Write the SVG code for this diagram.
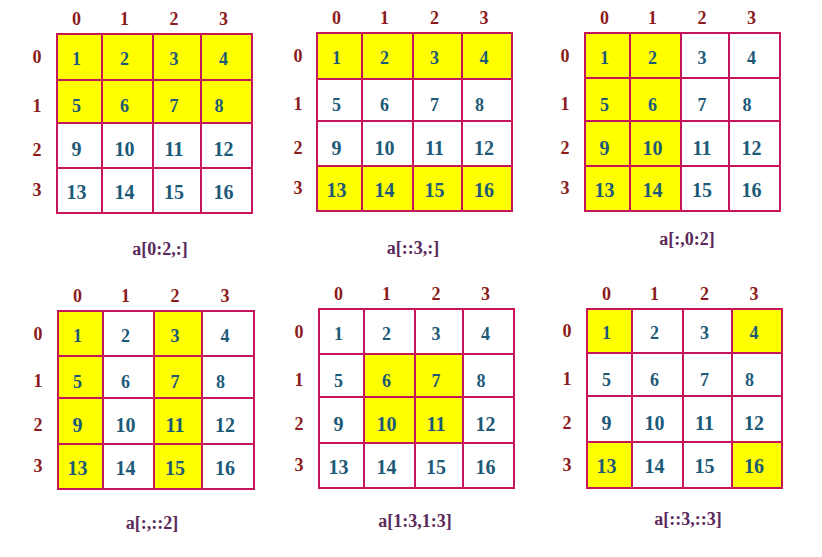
<svg xmlns="http://www.w3.org/2000/svg" width="822" height="557" viewBox="0 0 822 557">
<style>
.c{fill:#ffffff;stroke:#c8145a;stroke-width:2}
.h{fill:#ffff00;stroke:#c8145a;stroke-width:2}
text{font-family:"Liberation Serif","Times New Roman",serif;font-weight:bold;text-anchor:middle}
.n{fill:#1c5a78;font-size:18px}
.m{fill:#1c5a78;font-size:20px}
.l{fill:#8b1c1c;font-size:18px}
.cap{fill:#5a2a5a;font-size:18px}
</style>
<rect width="822" height="557" fill="#ffffff"/>

<g id="grid1">
<rect class="h" x="57" y="34" width="45" height="46"/><rect class="h" x="102" y="34" width="51" height="46"/><rect class="h" x="153" y="34" width="48" height="46"/><rect class="h" x="201" y="34" width="51" height="46"/>
<rect class="h" x="57" y="80" width="45" height="43"/><rect class="h" x="102" y="80" width="51" height="43"/><rect class="h" x="153" y="80" width="48" height="43"/><rect class="h" x="201" y="80" width="51" height="43"/>
<rect class="c" x="57" y="123" width="45" height="45"/><rect class="c" x="102" y="123" width="51" height="45"/><rect class="c" x="153" y="123" width="48" height="45"/><rect class="c" x="201" y="123" width="51" height="45"/>
<rect class="c" x="57" y="168" width="45" height="45"/><rect class="c" x="102" y="168" width="51" height="45"/><rect class="c" x="153" y="168" width="48" height="45"/><rect class="c" x="201" y="168" width="51" height="45"/>
<text class="l" x="76.5" y="25">0</text><text class="l" x="124.5" y="25">1</text><text class="l" x="174" y="25">2</text><text class="l" x="223.5" y="25">3</text>
<text class="l" x="37" y="63">0</text><text class="l" x="37" y="111.5">1</text><text class="l" x="37" y="155.5">2</text><text class="l" x="37" y="196">3</text>
<text class="n" x="76.5" y="65">1</text><text class="n" x="124.5" y="65">2</text><text class="n" x="174" y="65">3</text><text class="n" x="223.5" y="65">4</text>
<text class="n" x="76.5" y="112">5</text><text class="n" x="124.5" y="112">6</text><text class="n" x="174" y="112">7</text><text class="n" x="219" y="112">8</text>
<text class="m" x="76.5" y="156">9</text><text class="m" x="124.5" y="156">10</text><text class="m" x="174" y="156">11</text><text class="m" x="223.5" y="156">12</text>
<text class="m" x="76.5" y="198.5">13</text><text class="m" x="124.5" y="198.5">14</text><text class="m" x="174" y="198.5">15</text><text class="m" x="223.5" y="198.5">16</text>
<text class="cap" x="160" y="255">a[0:2,:]</text>
</g>

<g id="grid2">
<rect class="h" x="317" y="33" width="45" height="46"/><rect class="h" x="362" y="33" width="51" height="46"/><rect class="h" x="413" y="33" width="49" height="46"/><rect class="h" x="462" y="33" width="50" height="46"/>
<rect class="c" x="317" y="79" width="45" height="42"/><rect class="c" x="362" y="79" width="51" height="42"/><rect class="c" x="413" y="79" width="49" height="42"/><rect class="c" x="462" y="79" width="50" height="42"/>
<rect class="c" x="317" y="121" width="45" height="45"/><rect class="c" x="362" y="121" width="51" height="45"/><rect class="c" x="413" y="121" width="49" height="45"/><rect class="c" x="462" y="121" width="50" height="45"/>
<rect class="h" x="317" y="166" width="45" height="45"/><rect class="h" x="362" y="166" width="51" height="45"/><rect class="h" x="413" y="166" width="49" height="45"/><rect class="h" x="462" y="166" width="50" height="45"/>
<text class="l" x="336.5" y="24">0</text><text class="l" x="384.5" y="24">1</text><text class="l" x="434.5" y="24">2</text><text class="l" x="484" y="24">3</text>
<text class="l" x="298" y="62">0</text><text class="l" x="298" y="110">1</text><text class="l" x="298" y="153.5">2</text><text class="l" x="298" y="194">3</text>
<text class="n" x="336.5" y="64">1</text><text class="n" x="384.5" y="64">2</text><text class="n" x="434.5" y="64">3</text><text class="n" x="484" y="64">4</text>
<text class="n" x="336.5" y="111">5</text><text class="n" x="384.5" y="111">6</text><text class="n" x="434.5" y="111">7</text><text class="n" x="479.5" y="111">8</text>
<text class="m" x="336.5" y="154.5">9</text><text class="m" x="384.5" y="154.5">10</text><text class="m" x="434.5" y="154.5">11</text><text class="m" x="484" y="154.5">12</text>
<text class="m" x="336.5" y="196.5">13</text><text class="m" x="384.5" y="196.5">14</text><text class="m" x="434.5" y="196.5">15</text><text class="m" x="484" y="196.5">16</text>
<text class="cap" x="413" y="254">a[::3,:]</text>
</g>

<g id="grid3">
<rect class="h" x="585" y="33" width="45" height="45"/><rect class="h" x="630" y="33" width="51" height="45"/><rect class="c" x="681" y="33" width="48" height="45"/><rect class="c" x="729" y="33" width="51" height="45"/>
<rect class="h" x="585" y="78" width="45" height="43"/><rect class="h" x="630" y="78" width="51" height="43"/><rect class="c" x="681" y="78" width="48" height="43"/><rect class="c" x="729" y="78" width="51" height="43"/>
<rect class="h" x="585" y="121" width="45" height="45"/><rect class="h" x="630" y="121" width="51" height="45"/><rect class="c" x="681" y="121" width="48" height="45"/><rect class="c" x="729" y="121" width="51" height="45"/>
<rect class="h" x="585" y="166" width="45" height="45"/><rect class="h" x="630" y="166" width="51" height="45"/><rect class="c" x="681" y="166" width="48" height="45"/><rect class="c" x="729" y="166" width="51" height="45"/>
<text class="l" x="604.5" y="24">0</text><text class="l" x="652.5" y="24">1</text><text class="l" x="702" y="24">2</text><text class="l" x="751.5" y="24">3</text>
<text class="l" x="565" y="61.5">0</text><text class="l" x="565" y="109.5">1</text><text class="l" x="565" y="153.5">2</text><text class="l" x="565" y="194">3</text>
<text class="n" x="604.5" y="63.5">1</text><text class="n" x="652.5" y="63.5">2</text><text class="n" x="702" y="63.5">3</text><text class="n" x="751.5" y="63.5">4</text>
<text class="n" x="604.5" y="110.5">5</text><text class="n" x="652.5" y="110.5">6</text><text class="n" x="702" y="110.5">7</text><text class="n" x="747" y="110.5">8</text>
<text class="m" x="604.5" y="154.5">9</text><text class="m" x="652.5" y="154.5">10</text><text class="m" x="702" y="154.5">11</text><text class="m" x="751.5" y="154.5">12</text>
<text class="m" x="604.5" y="196.5">13</text><text class="m" x="652.5" y="196.5">14</text><text class="m" x="702" y="196.5">15</text><text class="m" x="751.5" y="196.5">16</text>
<text class="cap" x="687" y="245">a[:,0:2]</text>
</g>

<g id="grid4">
<rect class="h" x="58" y="311" width="45" height="45"/><rect class="c" x="103" y="311" width="51" height="45"/><rect class="h" x="154" y="311" width="48" height="45"/><rect class="c" x="202" y="311" width="52" height="45"/>
<rect class="h" x="58" y="356" width="45" height="42"/><rect class="c" x="103" y="356" width="51" height="42"/><rect class="h" x="154" y="356" width="48" height="42"/><rect class="c" x="202" y="356" width="52" height="42"/>
<rect class="h" x="58" y="398" width="45" height="46"/><rect class="c" x="103" y="398" width="51" height="46"/><rect class="h" x="154" y="398" width="48" height="46"/><rect class="c" x="202" y="398" width="52" height="46"/>
<rect class="h" x="58" y="444" width="45" height="45"/><rect class="c" x="103" y="444" width="51" height="45"/><rect class="h" x="154" y="444" width="48" height="45"/><rect class="c" x="202" y="444" width="52" height="45"/>
<text class="l" x="77.5" y="302">0</text><text class="l" x="125.5" y="302">1</text><text class="l" x="175" y="302">2</text><text class="l" x="225" y="302">3</text>
<text class="l" x="38" y="339.5">0</text><text class="l" x="38" y="387">1</text><text class="l" x="38" y="431">2</text><text class="l" x="38" y="472">3</text>
<text class="n" x="77.5" y="341.5">1</text><text class="n" x="125.5" y="341.5">2</text><text class="n" x="175" y="341.5">3</text><text class="n" x="225" y="341.5">4</text>
<text class="n" x="77.5" y="388">5</text><text class="n" x="125.5" y="388">6</text><text class="n" x="175" y="388">7</text><text class="n" x="220.5" y="388">8</text>
<text class="m" x="77.5" y="432">9</text><text class="m" x="125.5" y="432">10</text><text class="m" x="175" y="432">11</text><text class="m" x="225" y="432">12</text>
<text class="m" x="77.5" y="474.5">13</text><text class="m" x="125.5" y="474.5">14</text><text class="m" x="175" y="474.5">15</text><text class="m" x="225" y="474.5">16</text>
<text class="cap" x="152" y="529">a[:,::2]</text>
</g>

<g id="grid5">
<rect class="c" x="319" y="309" width="45" height="45"/><rect class="c" x="364" y="309" width="51" height="45"/><rect class="c" x="415" y="309" width="48" height="45"/><rect class="c" x="463" y="309" width="51" height="45"/>
<rect class="c" x="319" y="354" width="45" height="43"/><rect class="h" x="364" y="354" width="51" height="43"/><rect class="h" x="415" y="354" width="48" height="43"/><rect class="c" x="463" y="354" width="51" height="43"/>
<rect class="c" x="319" y="397" width="45" height="46"/><rect class="h" x="364" y="397" width="51" height="46"/><rect class="h" x="415" y="397" width="48" height="46"/><rect class="c" x="463" y="397" width="51" height="46"/>
<rect class="c" x="319" y="443" width="45" height="45"/><rect class="c" x="364" y="443" width="51" height="45"/><rect class="c" x="415" y="443" width="48" height="45"/><rect class="c" x="463" y="443" width="51" height="45"/>
<text class="l" x="338.5" y="300">0</text><text class="l" x="386.5" y="300">1</text><text class="l" x="436" y="300">2</text><text class="l" x="485.5" y="300">3</text>
<text class="l" x="299" y="337.5">0</text><text class="l" x="299" y="385.5">1</text><text class="l" x="299" y="430">2</text><text class="l" x="299" y="471">3</text>
<text class="n" x="338.5" y="339.5">1</text><text class="n" x="386.5" y="339.5">2</text><text class="n" x="436" y="339.5">3</text><text class="n" x="485.5" y="339.5">4</text>
<text class="n" x="338.5" y="386.5">5</text><text class="n" x="386.5" y="386.5">6</text><text class="n" x="436" y="386.5">7</text><text class="n" x="481" y="386.5">8</text>
<text class="m" x="338.5" y="431">9</text><text class="m" x="386.5" y="431">10</text><text class="m" x="436" y="431">11</text><text class="m" x="485.5" y="431">12</text>
<text class="m" x="338.5" y="473.5">13</text><text class="m" x="386.5" y="473.5">14</text><text class="m" x="436" y="473.5">15</text><text class="m" x="485.5" y="473.5">16</text>
<text class="cap" x="415" y="527">a[1:3,1:3]</text>
</g>

<g id="grid6">
<rect class="h" x="587" y="309" width="45" height="44"/><rect class="c" x="632" y="309" width="51" height="44"/><rect class="c" x="683" y="309" width="49" height="44"/><rect class="h" x="732" y="309" width="50" height="44"/>
<rect class="c" x="587" y="353" width="45" height="43"/><rect class="c" x="632" y="353" width="51" height="43"/><rect class="c" x="683" y="353" width="49" height="43"/><rect class="c" x="732" y="353" width="50" height="43"/>
<rect class="c" x="587" y="396" width="45" height="46"/><rect class="c" x="632" y="396" width="51" height="46"/><rect class="c" x="683" y="396" width="49" height="46"/><rect class="c" x="732" y="396" width="50" height="46"/>
<rect class="h" x="587" y="442" width="45" height="46"/><rect class="c" x="632" y="442" width="51" height="46"/><rect class="c" x="683" y="442" width="49" height="46"/><rect class="h" x="732" y="442" width="50" height="46"/>
<text class="l" x="606.5" y="300">0</text><text class="l" x="654.5" y="300">1</text><text class="l" x="704.5" y="300">2</text><text class="l" x="754" y="300">3</text>
<text class="l" x="567" y="337">0</text><text class="l" x="567" y="384.5">1</text><text class="l" x="567" y="429">2</text><text class="l" x="567" y="470.5">3</text>
<text class="n" x="606.5" y="339">1</text><text class="n" x="654.5" y="339">2</text><text class="n" x="704.5" y="339">3</text><text class="n" x="754" y="339">4</text>
<text class="n" x="606.5" y="385.5">5</text><text class="n" x="654.5" y="385.5">6</text><text class="n" x="704.5" y="385.5">7</text><text class="n" x="749.5" y="385.5">8</text>
<text class="m" x="606.5" y="430">9</text><text class="m" x="654.5" y="430">10</text><text class="m" x="704.5" y="430">11</text><text class="m" x="754" y="430">12</text>
<text class="m" x="606.5" y="473">13</text><text class="m" x="654.5" y="473">14</text><text class="m" x="704.5" y="473">15</text><text class="m" x="754" y="473">16</text>
<text class="cap" x="688" y="525">a[::3,::3]</text>
</g>
</svg>
